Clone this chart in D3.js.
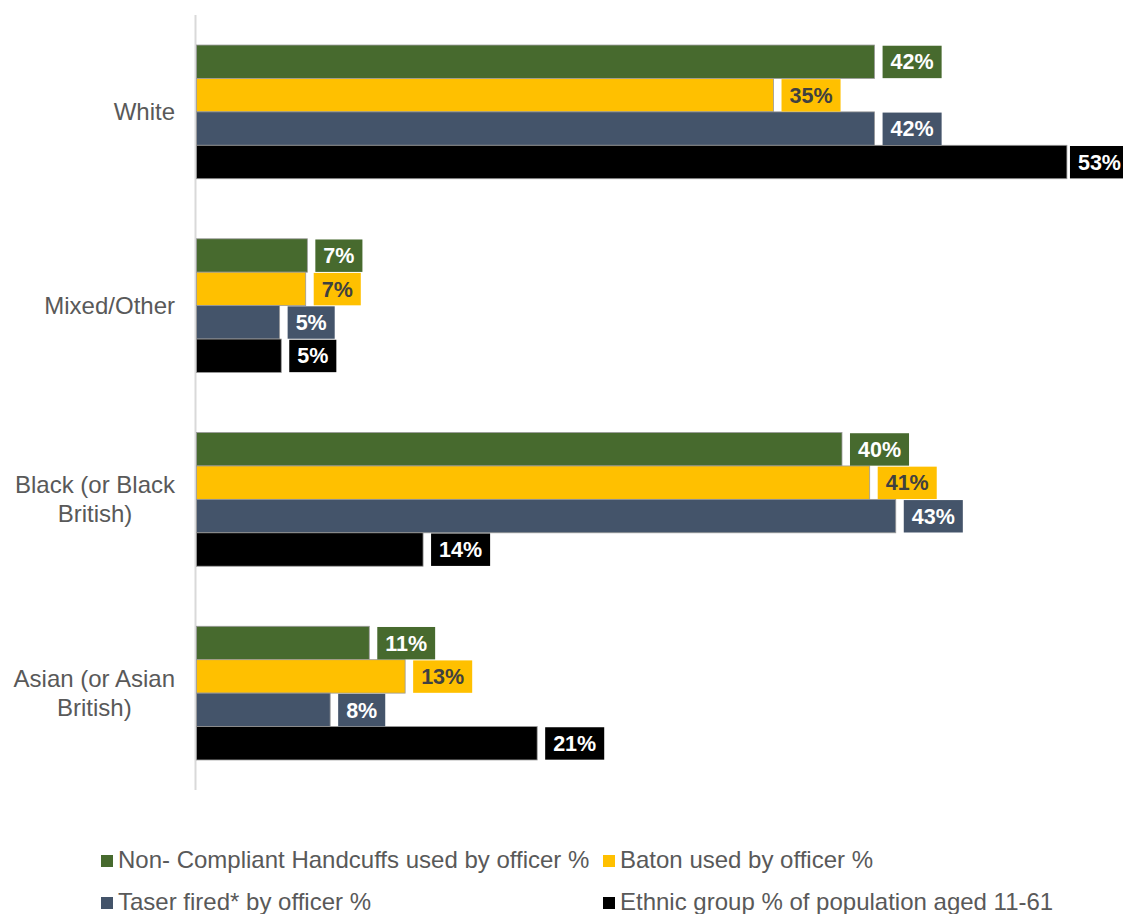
<!DOCTYPE html>
<html>
<head>
<meta charset="utf-8">
<script src="https://cdn.jsdelivr.net/npm/d3@7"></script>
<style>
html,body{margin:0;padding:0;background:#fff;}
svg{display:block;}
</style>
</head>
<body>
<svg id="chart" width="1123" height="914"></svg>
<script>
// ---- data ----
const categories = ["White", "Mixed/Other", "Black (or Black British)", "Asian (or Asian British)"];
const categoryLines = [["White"], ["Mixed/Other"], ["Black (or Black", "British)"], ["Asian (or Asian", "British)"]];
const seriesNames = ["Non- Compliant Handcuffs used by officer %", "Baton used by officer %", "Taser fired* by officer %", "Ethnic group % of population aged 11-61"];
const handcuffs = [41.6, 6.8, 39.6, 10.6];
const baton = [35.4, 6.7, 41.3, 12.8];
const taser = [41.6, 5.1, 42.9, 8.2];
const population = [53.4, 5.2, 13.9, 20.9];
const seriesValues = [handcuffs, baton, taser, population];
const colors = ["#476A2E", "#FFC000", "#44546A", "#000000"];
const labelColors = ["#ffffff", "#404040", "#ffffff", "#ffffff"];

const W = 1123;
const svg = d3.select("#chart");
const font = "'Liberation Sans', Arial, sans-serif";

const x = d3.scaleLinear().domain([0, 60]).range([196.5, 196.5 + 978]);
const y = d3.scaleBand().domain(categories).range([15, 790]).paddingInner(0.31).paddingOuter(0.155);
const ySub = d3.scaleBand().domain(d3.range(seriesNames.length)).range([0, y.bandwidth()]);

// axis line
svg.append("line")
  .attr("x1", 195.5).attr("x2", 195.5)
  .attr("y1", 15).attr("y2", 790)
  .attr("stroke", "#d9d9d9").attr("stroke-width", 2);

// bars
const barData = [];
categories.forEach((c, ci) => {
  seriesValues.forEach((vals, si) => {
    barData.push({cat: c, ci, si, v: vals[ci]});
  });
});

svg.append("g").selectAll("rect").data(barData).join("rect")
  .attr("x", x(0))
  .attr("y", d => y(d.cat) + ySub(d.si))
  .attr("width", d => x(d.v) - x(0))
  .attr("height", ySub.bandwidth())
  .attr("fill", d => colors[d.si])
  .attr("stroke", "#9a9a9a")
  .attr("stroke-width", 0.8);

// data labels
const lg = svg.append("g");
barData.forEach(d => {
  const txt = Math.round(d.v) + "%";
  const g = lg.append("g");
  const t = g.append("text")
    .attr("font-family", font).attr("font-weight", "bold").attr("font-size", 21.5)
    .attr("fill", labelColors[d.si])
    .text(txt);
  const w = t.node().getComputedTextLength();
  // keep the label text inside the picture
  const bx = Math.min(x(d.v) + 8, W - 2 - w - 8);
  const by = y(d.cat) + ySub(d.si) + 0.7;
  const bh = ySub.bandwidth() - 1;
  g.insert("rect", "text")
    .attr("x", bx).attr("y", by)
    .attr("width", w + 16).attr("height", bh)
    .attr("fill", colors[d.si]);
  t.attr("x", bx + 8).attr("y", by + bh / 2 + 7.5);
});

// category labels
categories.forEach((c, ci) => {
  const lines = categoryLines[ci];
  const g = svg.append("g");
  const texts = lines.map(l => g.append("text")
    .attr("font-family", font).attr("font-size", 24).attr("fill", "#595959")
    .attr("text-anchor", "middle").text(l));
  const maxW = d3.max(texts, t => t.node().getComputedTextLength());
  const cx = 175 - maxW / 2;
  const cy = y(c) + y.bandwidth() / 2;
  const lh = 29;
  texts.forEach((t, i) => {
    t.attr("x", cx).attr("y", cy + (i - (lines.length - 1) / 2) * lh + 8.5);
  });
});

// legend
const legendPos = [[101, 855], [603, 855], [101, 897], [603, 897]];
seriesNames.forEach((s, si) => {
  const [lx, ly] = legendPos[si];
  svg.append("rect").attr("x", lx).attr("y", ly).attr("width", 12).attr("height", 12).attr("fill", colors[si]);
  svg.append("text").attr("x", lx + 17).attr("y", ly + 13)
    .attr("font-family", font).attr("font-size", 24).attr("fill", "#595959")
    .text(s);
});
</script>
</body>
</html>
